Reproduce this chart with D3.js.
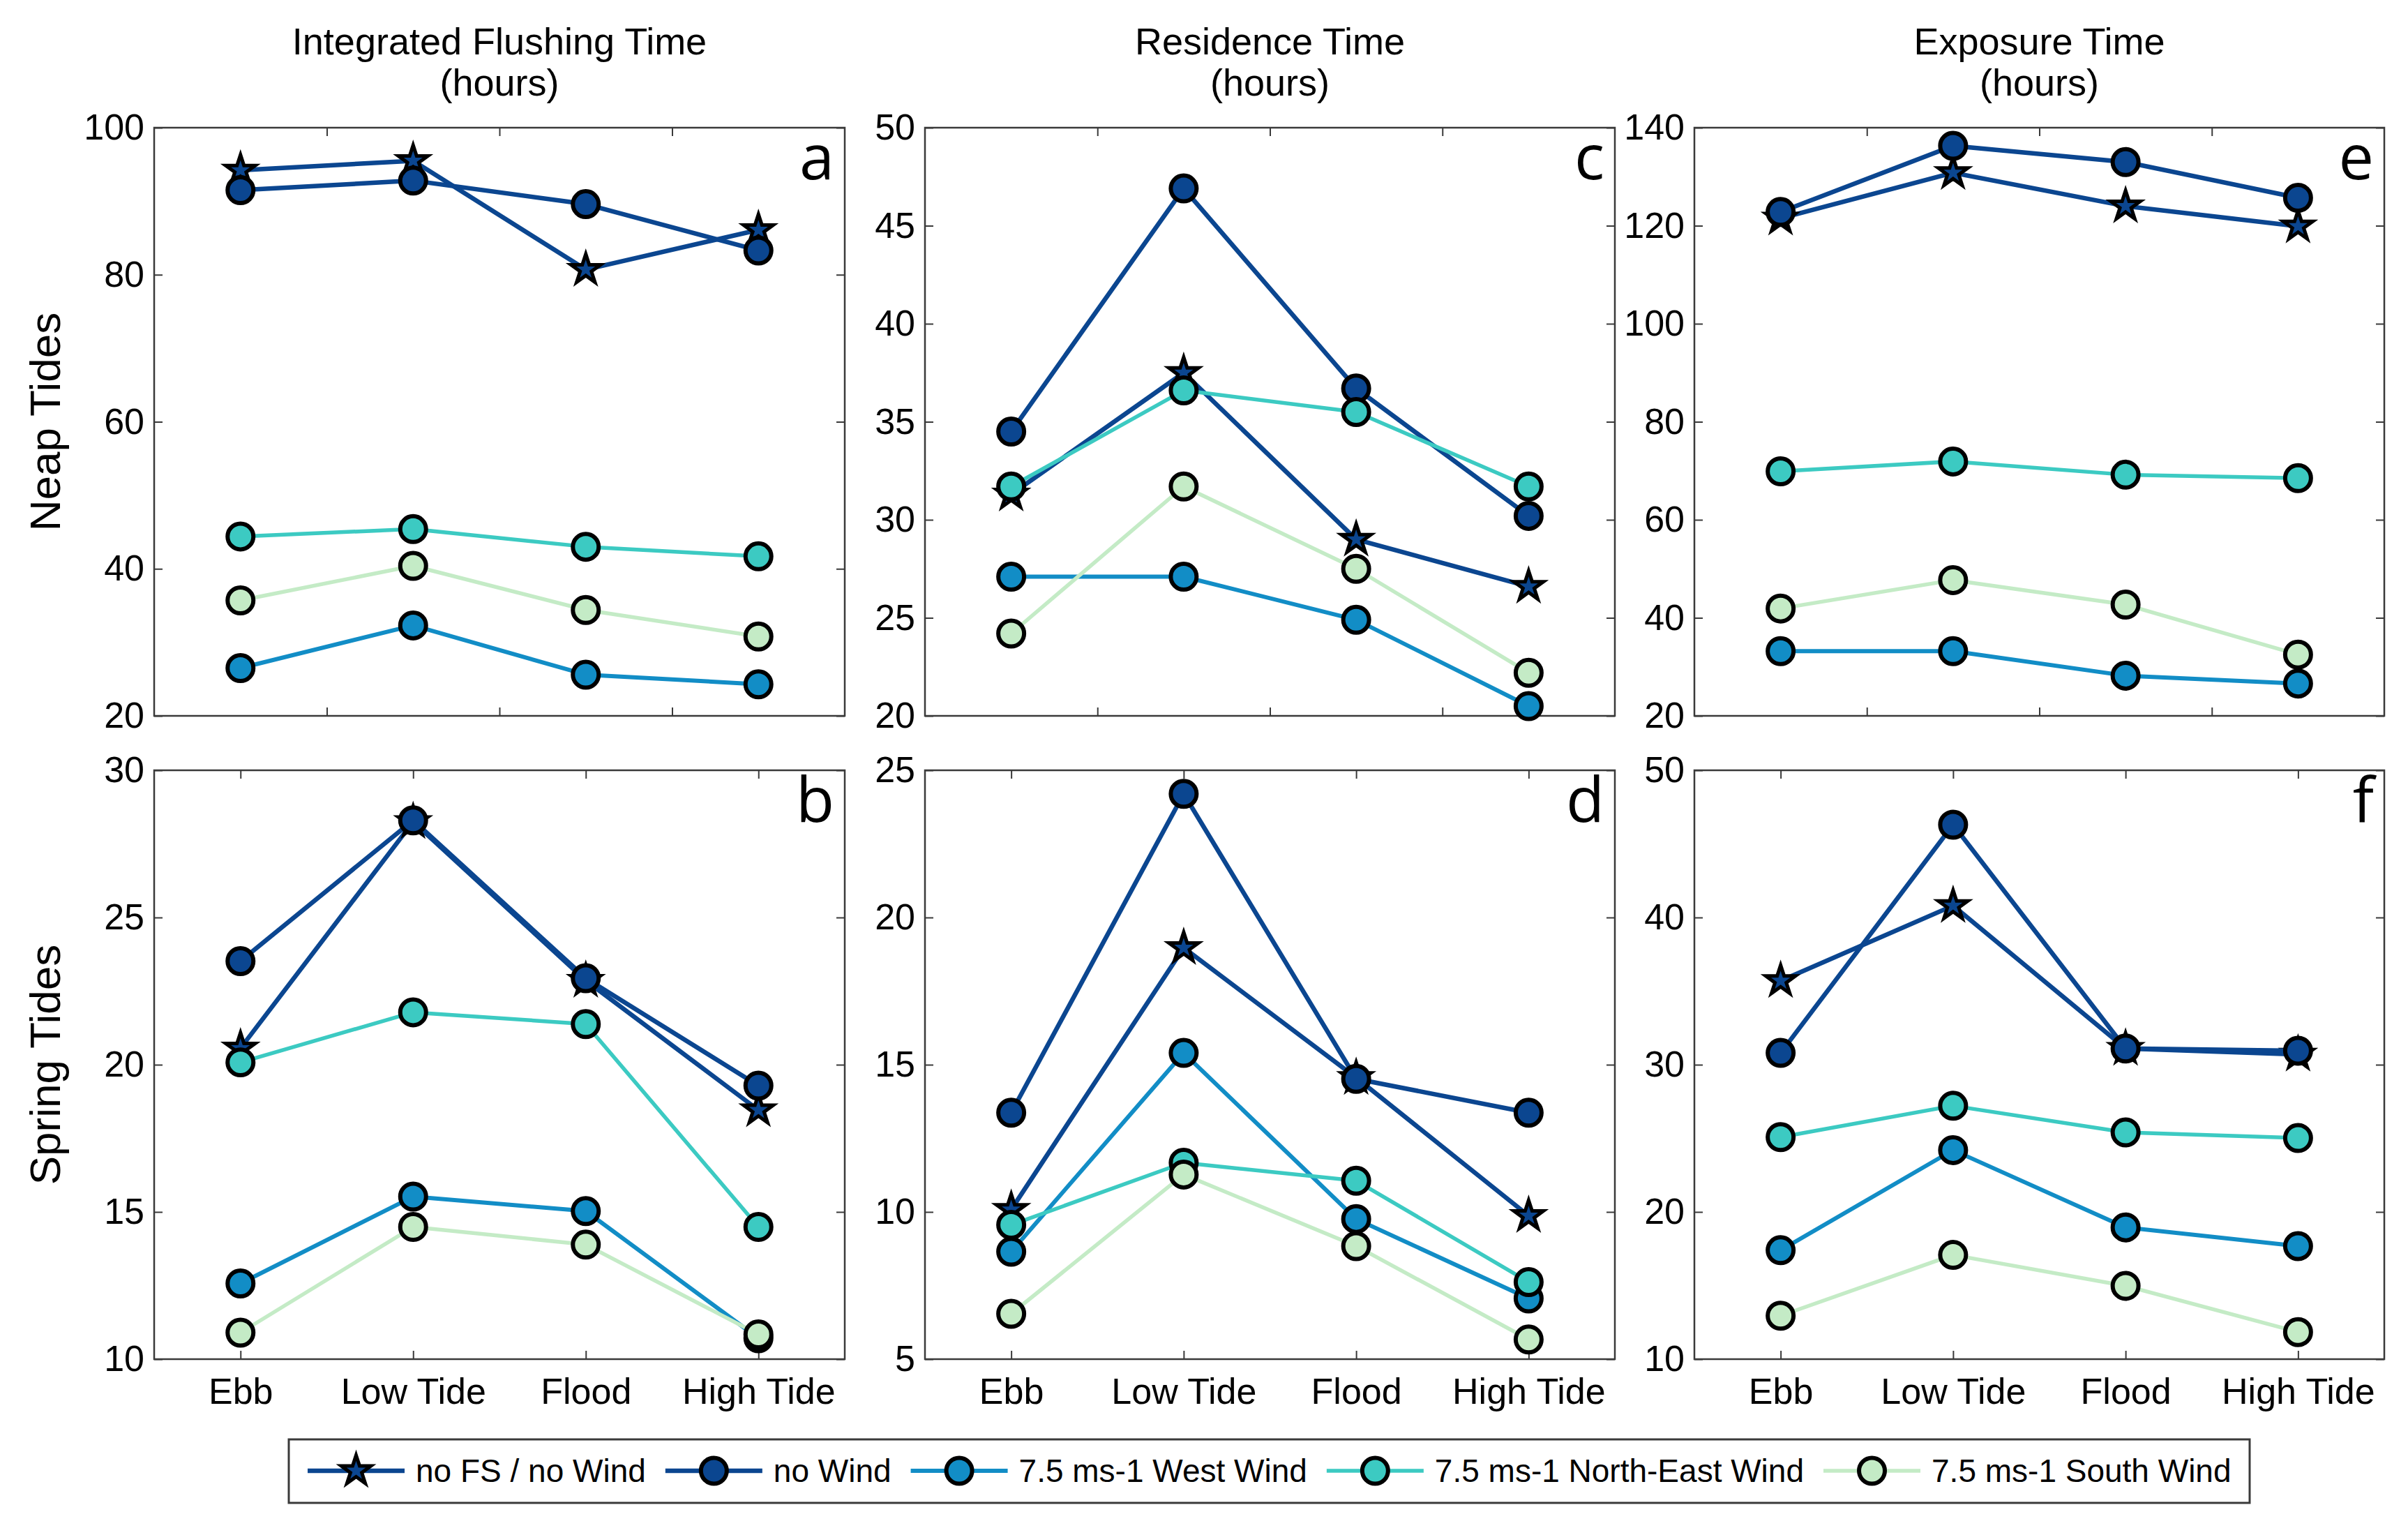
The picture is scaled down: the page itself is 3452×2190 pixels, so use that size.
<!DOCTYPE html>
<html>
<head>
<meta charset="utf-8">
<script src="https://cdn.jsdelivr.net/npm/d3@7"></script>
<style>
  body { margin: 0; background: #fff; }
  svg { display: block; }
  text { font-family: Arial, "Liberation Sans", Helvetica, sans-serif; fill: #000; }
</style>
</head>
<body>
<div id="chart"></div>
<script>
// categories along x
const categories = ["Ebb", "Low Tide", "Flood", "High Tide"];
const seriesNames = ["no FS / no Wind", "no Wind", "7.5 ms-1 West Wind", "7.5 ms-1 North-East Wind", "7.5 ms-1 South Wind"];

// one row per series, in seriesNames order
const flushingNeap = [
  [94.2, 95.5, 80.7, 86.1],
  [91.5, 92.8, 89.6, 83.3],
  [26.5, 32.3, 25.6, 24.3],
  [44.4, 45.4, 43.0, 41.7],
  [35.7, 40.4, 34.4, 30.8]
];
const residenceNeap = [
  [31.3, 37.5, 29.0, 26.6],
  [34.5, 46.9, 36.7, 30.2],
  [27.1, 27.1, 24.9, 20.5],
  [31.7, 36.6, 35.5, 31.7],
  [24.2, 31.7, 27.5, 22.2]
];
const exposureNeap = [
  [121.5, 130.8, 124.0, 119.9],
  [122.8, 136.3, 133.0, 125.7],
  [33.2, 33.2, 28.2, 26.6],
  [69.9, 71.9, 69.2, 68.5],
  [41.9, 47.7, 42.7, 32.5]
];
const flushingSpring = [
  [20.56, 28.25, 22.86, 18.46],
  [23.52, 28.3, 22.94, 19.29],
  [12.57, 15.52, 15.03, 10.71],
  [20.08, 21.78, 21.38, 14.49],
  [10.9, 14.49, 13.89, 10.84]
];
const residenceSpring = [
  [10.08, 18.97, 14.56, 9.87],
  [13.37, 24.2, 14.52, 13.37],
  [8.65, 15.4, 9.76, 7.06],
  [9.56, 11.67, 11.06, 7.62],
  [6.54, 11.27, 8.84, 5.67]
];
const exposureSpring = [
  [35.7, 40.8, 31.1, 30.7],
  [30.8, 46.3, 31.1, 30.95],
  [17.4, 24.2, 18.95, 17.68],
  [25.08, 27.21, 25.4, 25.02],
  [12.95, 17.08, 14.98, 11.84]
];

const ticksFlushingNeap = [20, 40, 60, 80, 100];
const ticksResidenceNeap = [20, 25, 30, 35, 40, 45, 50];
const ticksExposureNeap = [20, 40, 60, 80, 100, 120, 140];
const ticksFlushingSpring = [10, 15, 20, 25, 30];
const ticksResidenceSpring = [5, 10, 15, 20, 25];
const ticksExposureSpring = [10, 20, 30, 40, 50];

const columnTitles = ["Integrated Flushing Time", "Residence Time", "Exposure Time"];
const rowTitles = ["Neap Tides", "Spring Tides"];

const colors = ["#0b4690", "#0b4690", "#128dc6", "#3ccac2", "#c4ebc6"];
const lineWidths = [6.5, 6.5, 6, 5.5, 5.5];

const w = 3452, h = 2190;
const colX = [[221, 1211], [1326, 2315], [2429, 3418]];
const rowY = [[183, 1026], [1104, 1948]];

const panels = [
  { letter: "a", data: flushingNeap, ticks: ticksFlushingNeap, col: 0, row: 0 },
  { letter: "b", data: flushingSpring, ticks: ticksFlushingSpring, col: 0, row: 1 },
  { letter: "c", data: residenceNeap, ticks: ticksResidenceNeap, col: 1, row: 0 },
  { letter: "d", data: residenceSpring, ticks: ticksResidenceSpring, col: 1, row: 1 },
  { letter: "e", data: exposureNeap, ticks: ticksExposureNeap, col: 2, row: 0 },
  { letter: "f", data: exposureSpring, ticks: ticksExposureSpring, col: 2, row: 1 }
];

const svg = d3.select("#chart").append("svg")
  .attr("width", w)
  .attr("height", h);

const star = d3.symbol().type(d3.symbolStar).size(560);
const dot = d3.symbol().type(d3.symbolCircle).size(1075);

panels.forEach(p => {
  const [x0, x1] = colX[p.col];
  const [y0, y1] = rowY[p.row];
  const xScale = d3.scaleLinear().domain([0.5, 4.5]).range([x0, x1]);
  const yScale = d3.scaleLinear().domain(d3.extent(p.ticks)).range([y1, y0]);
  const g = svg.append("g");

  const xTicks = p.row === 0 ? [1.5, 2.5, 3.5] : [1, 2, 3, 4];

  // axes, ticks pointing inward like matlab
  const left = g.append("g").attr("transform", `translate(${x0},0)`)
    .call(d3.axisLeft(yScale).tickValues(p.ticks).tickSize(-12).tickSizeOuter(0).tickPadding(14));
  const right = g.append("g").attr("transform", `translate(${x1},0)`)
    .call(d3.axisRight(yScale).tickValues(p.ticks).tickSize(-12).tickSizeOuter(0).tickFormat(""));
  const top = g.append("g").attr("transform", `translate(0,${y0})`)
    .call(d3.axisTop(xScale).tickValues(xTicks).tickSize(-12).tickSizeOuter(0).tickFormat(""));
  const bottom = g.append("g").attr("transform", `translate(0,${y1})`)
    .call(d3.axisBottom(xScale).tickValues(xTicks).tickSize(-12).tickSizeOuter(0).tickPadding(27)
      .tickFormat(d => p.row === 1 ? categories[d - 1] : ""));

  [left, right, top, bottom].forEach(a => {
    a.attr("font-family", null);
    a.select(".domain").remove();
    a.selectAll(".tick line").attr("stroke", "#3a3a3a").attr("stroke-width", 2);
    a.selectAll("text").style("font-size", "52px").attr("fill", "#000");
  });

  g.append("rect")
    .attr("x", x0).attr("y", y0)
    .attr("width", x1 - x0).attr("height", y1 - y0)
    .attr("fill", "none").attr("stroke", "#3a3a3a").attr("stroke-width", 2.5);

  const line = d3.line().x((d, i) => xScale(i + 1)).y(d => yScale(d));

  p.data.forEach((vals, s) => {
    g.append("path")
      .attr("d", line(vals))
      .attr("fill", "none")
      .attr("stroke", colors[s])
      .attr("stroke-width", lineWidths[s])
      .attr("stroke-linejoin", "round");
    g.selectAll(null)
      .data(vals)
      .enter()
      .append("path")
      .attr("d", s === 0 ? star : dot)
      .attr("transform", (d, i) => `translate(${xScale(i + 1)},${yScale(d)})`)
      .attr("fill", colors[s])
      .attr("stroke", "#000")
      .attr("stroke-width", s === 0 ? 5 : 6);
  });

  g.append("text")
    .attr("x", x1 - 15)
    .attr("y", y0 + 74)
    .attr("text-anchor", "end")
    .style("font-family", "'Open Sans', 'DejaVu Sans', sans-serif")
    .style("font-size", "90px")
    .text(p.letter);
});

// column titles
columnTitles.forEach((t, i) => {
  const cx = (colX[i][0] + colX[i][1]) / 2;
  const txt = svg.append("text")
    .attr("x", cx)
    .attr("y", 78)
    .attr("text-anchor", "middle")
    .style("font-size", "54px");
  txt.append("tspan").attr("x", cx).text(t);
  txt.append("tspan").attr("x", cx).attr("dy", 59).text("(hours)");
});

// row titles
rowTitles.forEach((t, i) => {
  const cy = (rowY[i][0] + rowY[i][1]) / 2;
  svg.append("text")
    .attr("transform", `translate(86,${cy}) rotate(-90)`)
    .attr("text-anchor", "middle")
    .style("font-size", "62px")
    .text(t);
});

// legend
const legend = svg.append("g");
legend.append("rect")
  .attr("x", 414).attr("y", 2063)
  .attr("width", 2811).attr("height", 91)
  .attr("fill", "#fff").attr("stroke", "#3a3a3a").attr("stroke-width", 3);

let lx = 441;
const ly = 2108;
seriesNames.forEach((name, s) => {
  legend.append("line")
    .attr("x1", lx).attr("x2", lx + 139)
    .attr("y1", ly).attr("y2", ly)
    .attr("stroke", colors[s]).attr("stroke-width", lineWidths[s]);
  legend.append("path")
    .attr("d", s === 0 ? star : dot)
    .attr("transform", `translate(${lx + 69.5},${ly})`)
    .attr("fill", colors[s])
    .attr("stroke", "#000")
    .attr("stroke-width", s === 0 ? 5 : 6);
  const t = legend.append("text")
    .attr("x", lx + 139 + 16)
    .attr("y", ly + 16)
    .style("font-size", "46px")
    .text(name);
  lx += 139 + 16 + t.node().getComputedTextLength() + 28;
});
</script>
</body>
</html>
